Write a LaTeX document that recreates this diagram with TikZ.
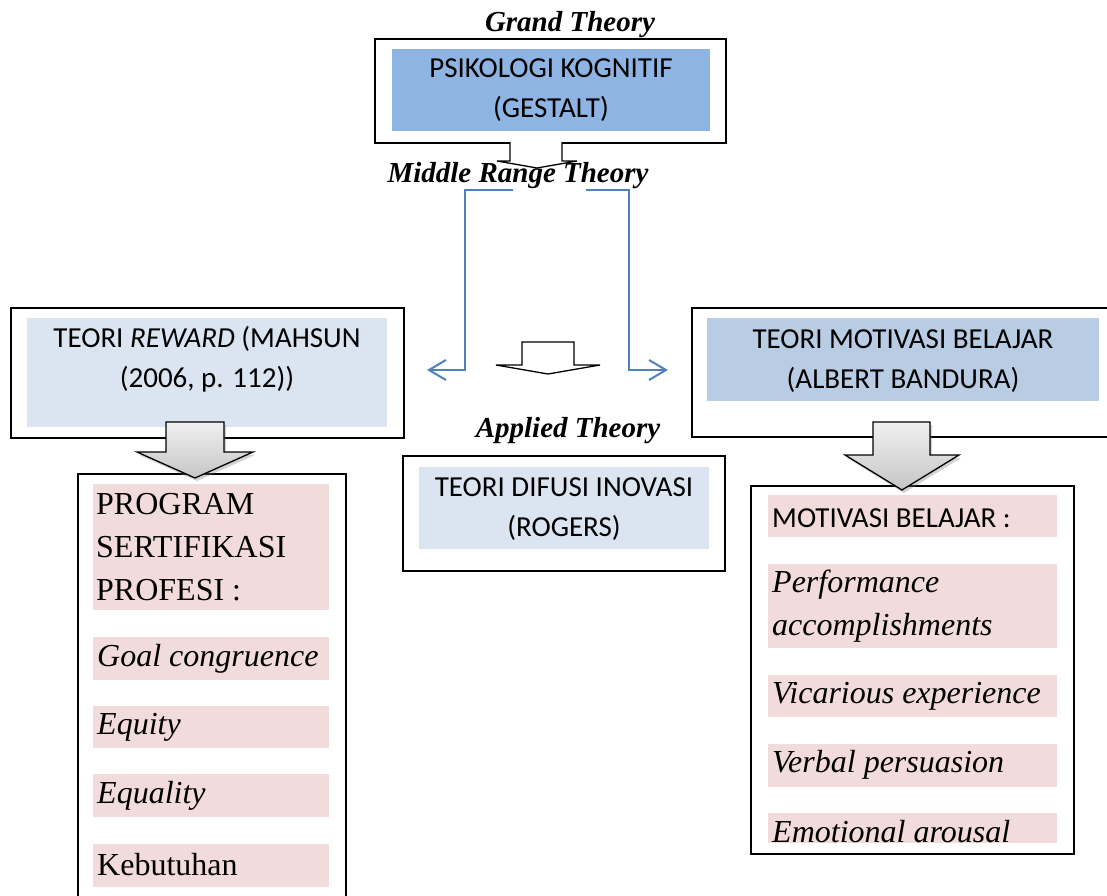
\documentclass[tikz,border=0pt]{standalone}
\usepackage{fontspec}
\setmainfont{Liberation Serif}
\newfontfamily\calibri{Carlito}
\usetikzlibrary{positioning}
\usetikzlibrary{shadows}
\usetikzlibrary{arrows.meta}

\definecolor{deepfill}{HTML}{8EB4E3}
\definecolor{palefill}{HTML}{DBE5F1}
\definecolor{midfill}{HTML}{B8CCE4}
\definecolor{pinkfill}{HTML}{F2DCDB}
\definecolor{linkblue}{HTML}{4F81BD}

\begin{document}
\begin{tikzpicture}[x=1pt,y=-1pt,
	outer/.style 2 args={draw,line width=1.6pt,anchor=north west,inner sep=0pt,
		minimum width=#1,minimum height=#2},
	band/.style n args={3}{fill=#3,anchor=north west,inner sep=0pt,
		minimum width=#1,minimum height=#2},
	sanstext/.style={font=\calibri\fontsize{29}{40}\selectfont,align=center,inner sep=0pt},
	listtext/.style={font=\fontsize{32}{43}\selectfont,align=left,anchor=west,inner sep=0pt},
	level/.style={font=\fontsize{29}{30}\selectfont\bfseries\itshape,anchor=base,inner sep=0pt},
	link/.style={draw=linkblue,line width=2pt,-{Straight Barb[length=17pt,width=20pt]}},
	hollow/.style={draw,line width=1.3pt,fill=white,line join=miter},
	bigarrow/.style={draw,line width=1.3pt,top color=gray!12,bottom color=gray!45,
		drop shadow={shadow xshift=2pt,shadow yshift=-3pt,opacity=0.35}}]
	
	\useasboundingbox (0,0) rectangle (1107,895);
	
	% boxes
	\node[outer={351pt}{104pt}] (gbox) at (374,38) {};
	\node[outer={393pt}{130pt}] (rbox) at (10,307) {};
	\node[outer={430pt}{129pt}] (mbox) at (691,307) {};
	\node[outer={322pt}{115pt}] (dbox) at (402,455) {};
	\node[outer={268pt}{450pt}] (pbox) at (77,473) {};
	\node[outer={323pt}{368pt}] (vbox) at (750,485) {};
	
	% coloured bands
	\node[band={318pt}{82pt}{deepfill}] (gband) at (392,49) {};
	\node[band={360pt}{109pt}{palefill}] (rband) at (27,318) {};
	\node[band={392pt}{83pt}{midfill}] (mband) at (707,318) {};
	\node[band={290pt}{82pt}{palefill}] (dband) at (419,467) {};
	
	\node[band={236pt}{126pt}{pinkfill}] (p1) at (93,484) {};
	\node[band={236pt}{43pt}{pinkfill}] (p2) at (93,637) {};
	\node[band={236pt}{42pt}{pinkfill}] (p3) at (93,706) {};
	\node[band={236pt}{43pt}{pinkfill}] (p4) at (93,774) {};
	\node[band={236pt}{43pt}{pinkfill}] (p5) at (93,844) {};
	
	\node[band={289pt}{42pt}{pinkfill}] (v1) at (768,495) {};
	\node[band={289pt}{84pt}{pinkfill}] (v2) at (768,564) {};
	\node[band={289pt}{42pt}{pinkfill}] (v3) at (768,675) {};
	\node[band={289pt}{43pt}{pinkfill}] (v4) at (768,744) {};
	\node[band={289pt}{30pt}{pinkfill}] (v5) at (768,813) {};
	
	% texts
	\node[sanstext] (gtext) at (551,90) {PSIKOLOGI KOGNITIF\\(GESTALT)};
	\node[sanstext] (rtext) at (207,359) {TEORI \textit{REWARD} (MAHSUN\\(2006, p. 112))};
	\node[sanstext] (mtext) at (903,361) {TEORI MOTIVASI BELAJAR\\(ALBERT BANDURA)};
	\node[sanstext] (dtext) at (564,509) {TEORI DIFUSI INOVASI\\(ROGERS)};
	
	\node[listtext] (p1text) at (96,547) {PROGRAM\\SERTIFIKASI\\PROFESI :};
	\node[listtext] (p2text) at (97,659) {\itshape Goal congruence};
	\node[listtext] (p3text) at (97,727) {\itshape Equity};
	\node[listtext] (p4text) at (97,796) {\itshape Equality};
	\node[listtext] (p5text) at (97,865) {Kebutuhan};
	
	\node[sanstext,anchor=west] (v1text) at (772,518) {MOTIVASI BELAJAR :};
	\node[listtext] (v2text) at (772,606) {\itshape Performance\\\itshape accomplishments};
	\node[listtext] (v3text) at (772,696) {\itshape Vicarious experience};
	\node[listtext] (v4text) at (772,765) {\itshape Verbal persuasion};
	\node[listtext] (v5text) at (772,832) {\itshape Emotional arousal};
	
	% block arrows
	\draw[hollow] (510,142) -- (510,161) -- (497,161) -- (537,168) -- (577,161)
		-- (562,161) -- (562,142);
	\draw[hollow] (522,342) -- (522,365) -- (496,365) -- (548,374) -- (600,365)
		-- (574,365) -- (574,342) -- cycle;
	\draw[bigarrow] (166,422) -- (166,452) -- (137,452) -- (195,478) -- (253,452)
		-- (224,452) -- (224,422) -- cycle;
	\draw[bigarrow] (873,422) -- (873,455) -- (845,455) -- (902,490) -- (959,455)
		-- (930,455) -- (930,422) -- cycle;
	
	% level labels
	\node[level] (grand) at (570,31) {Grand Theory};
	\node[level] (middle) at (518,182) {Middle Range Theory};
	\node[level] (applied) at (568,437) {Applied Theory};
	
	% split links
	\coordinate (lsplit) at (513,190);
	\coordinate (rsplit) at (586,190);
	\coordinate (ltip) at (427,370);
	\coordinate (rtip) at (668,370);
	\draw[link] (lsplit) -- (465,190) -- (465,370) -- (ltip);
	\draw[link] (rsplit) -- (629,190) -- (629,370) -- (rtip);
\end{tikzpicture}
\end{document}
